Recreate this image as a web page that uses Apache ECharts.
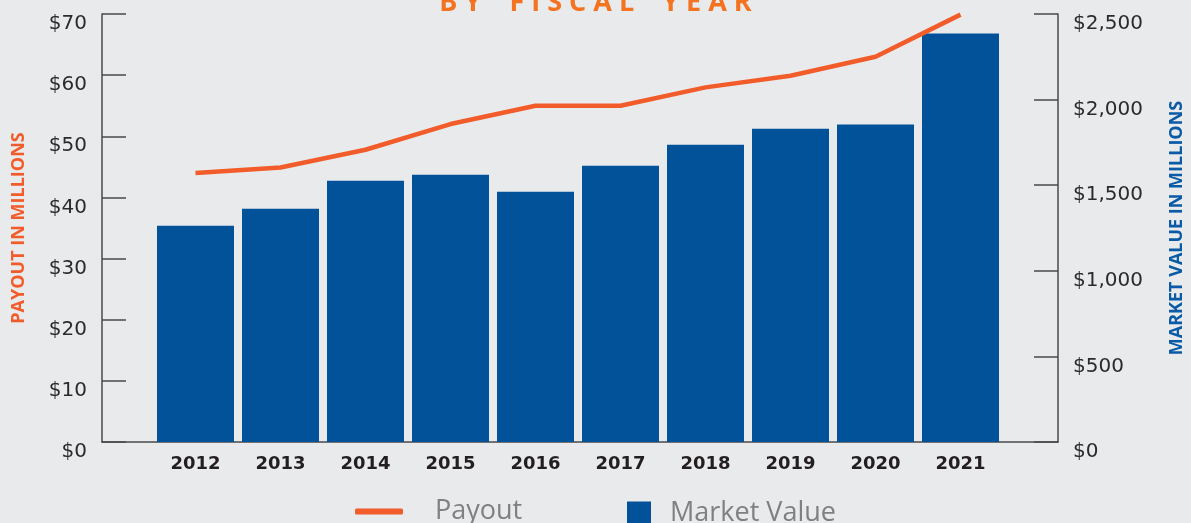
<!DOCTYPE html>
<html>
<head>
<meta charset="utf-8">
<script src="https://cdn.jsdelivr.net/npm/echarts@6/dist/echarts.min.js"></script>
<style>
  html, body { margin: 0; padding: 0; background: #e9eaec; }
  #chart { width: 1191px; height: 523px; }
</style>
</head>
<body>
<div id="chart"></div>
<script>
// data
var years = ['2012', '2013', '2014', '2015', '2016', '2017', '2018', '2019', '2020', '2021'];
var marketValue = [1263, 1363, 1526, 1561, 1462, 1614, 1737, 1830, 1854, 2386];
var payout = [44.0, 44.9, 47.8, 52.0, 55.0, 55.0, 58.0, 59.9, 63.0, 69.9];
var payoutTicks = { min: 0, max: 70, step: 10 };
var valueTicks = { min: 0, max: 2500, step: 500 };

var ORANGE = '#f25c2a';
var BLUE = '#02529a';
var AXIS = '#4a4a4a';

function money(v) {
  return '$' + String(v).replace(/\B(?=(\d{3})+(?!\d))/g, ',');
}

var myChart = echarts.init(document.getElementById('chart'));

var tickLabel = {
  fontFamily: 'DejaVu Sans',
  fontSize: 20,
  color: '#2b2b2b',
  verticalAlign: 'top',
  margin: 15,
  formatter: money
};

var option = {
  backgroundColor: '#e9eaec',
  animation: false,
  title: {
    text: 'B Y    F I S C A L    Y E A R',
    left: 'center',
    top: -15,
    textStyle: {
      fontFamily: 'Open Sans',
      fontSize: 27,
      fontWeight: 'bold',
      color: '#f47321'
    }
  },
  legend: [
    {
      data: [{ name: 'Payout', icon: 'roundRect' }],
      left: 350,
      top: 493,
      itemWidth: 48,
      itemHeight: 6,
      selectedMode: false,
      textStyle: {
        fontFamily: 'Open Sans',
        fontSize: 27,
        color: '#808080',
        padding: [0, 0, 0, 27]
      }
    },
    {
      data: [{ name: 'Market Value', icon: 'rect' }],
      left: 622,
      top: 495,
      itemWidth: 24,
      itemHeight: 24,
      selectedMode: false,
      textStyle: {
        fontFamily: 'Open Sans',
        fontSize: 27,
        color: '#808080',
        padding: [0, 0, 0, 14]
      }
    }
  ],
  grid: [
    // frame with the two value axes
    { left: 102, right: 133, top: 14, bottom: 81, containLabel: false, outerBoundsMode: 'none' },
    // inner area where the years sit
    { left: 153, right: 188, top: 14, bottom: 81, containLabel: false, outerBoundsMode: 'none' }
  ],
  xAxis: [
    {
      gridIndex: 0,
      type: 'value',
      min: 0,
      max: 1,
      axisLine: { show: true, onZero: false, lineStyle: { color: AXIS, width: 1.5 } },
      axisTick: { show: false },
      axisLabel: { show: false },
      splitLine: { show: false }
    },
    {
      gridIndex: 1,
      type: 'category',
      data: years,
      axisLine: { show: false },
      axisTick: { show: false },
      axisLabel: {
        fontFamily: 'DejaVu Sans',
        fontWeight: 'bold',
        fontSize: 18,
        color: '#231f20',
        margin: 13
      }
    }
  ],
  yAxis: [
    {
      gridIndex: 0,
      type: 'value',
      position: 'left',
      min: payoutTicks.min,
      max: payoutTicks.max,
      interval: payoutTicks.step,
      name: 'PAYOUT IN MILLIONS',
      nameLocation: 'middle',
      nameRotate: 90,
      nameGap: 74,
      nameTextStyle: { fontFamily: 'Open Sans', fontWeight: 'bold', fontSize: 18, color: ORANGE },
      axisLine: { show: true, lineStyle: { color: AXIS, width: 1.5 } },
      axisTick: { show: true, inside: true, length: 24, lineStyle: { color: AXIS, width: 1.5 } },
      axisLabel: tickLabel,
      splitLine: { show: false }
    },
    {
      gridIndex: 0,
      type: 'value',
      position: 'right',
      min: valueTicks.min,
      max: valueTicks.max,
      interval: valueTicks.step,
      name: 'MARKET VALUE IN MILLIONS',
      nameLocation: 'middle',
      nameRotate: 90,
      nameGap: 110,
      nameTextStyle: { fontFamily: 'Open Sans', fontWeight: 'bold', fontSize: 18, color: '#0b5aa5' },
      axisLine: { show: true, lineStyle: { color: AXIS, width: 1.5 } },
      axisTick: { show: true, inside: true, length: 24, lineStyle: { color: AXIS, width: 1.5 } },
      axisLabel: tickLabel,
      splitLine: { show: false }
    },
    {
      gridIndex: 1,
      type: 'value',
      min: payoutTicks.min,
      max: payoutTicks.max,
      show: false
    },
    {
      gridIndex: 1,
      type: 'value',
      min: valueTicks.min,
      max: valueTicks.max,
      show: false
    }
  ],
  series: [
    {
      name: 'Market Value',
      type: 'bar',
      xAxisIndex: 1,
      yAxisIndex: 3,
      data: marketValue,
      barWidth: 77,
      itemStyle: { color: BLUE }
    },
    {
      name: 'Payout',
      type: 'line',
      xAxisIndex: 1,
      yAxisIndex: 2,
      data: payout,
      showSymbol: false,
      symbol: 'none',
      z: 5,
      lineStyle: { color: ORANGE, width: 4.5 },
      itemStyle: { color: ORANGE }
    }
  ]
};

myChart.setOption(option);
</script>
</body>
</html>
